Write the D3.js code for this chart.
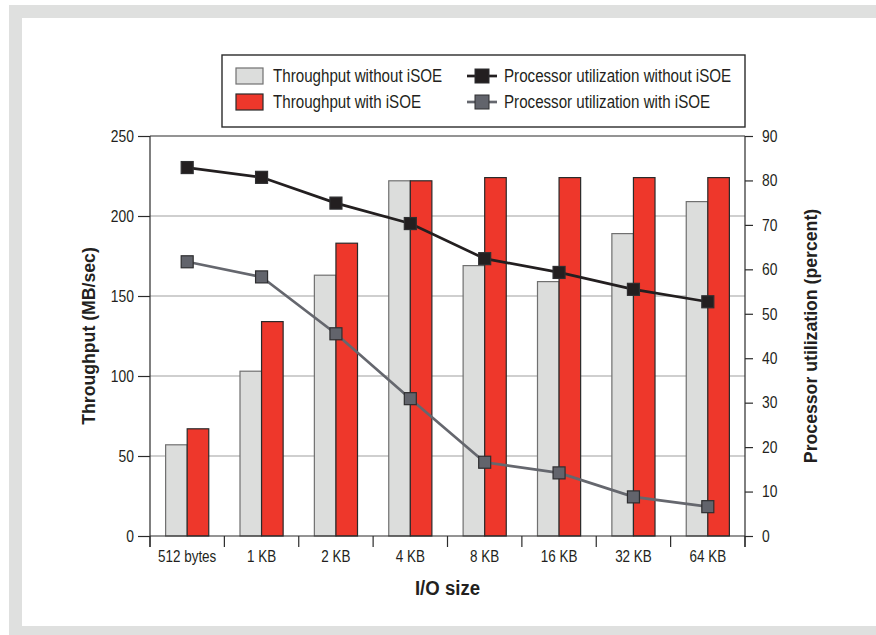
<!DOCTYPE html>
<html>
<head>
<meta charset="utf-8">
<script src="https://cdn.jsdelivr.net/npm/d3@7"></script>
<style>
  html, body { margin: 0; padding: 0; background: #fff; }
  svg { display: block; }
  text { font-family: 'Liberation Sans', Arial, sans-serif; fill: #231f20; }
</style>
</head>
<body>
<svg id="chart" width="876" height="635"></svg>
<script>
// I/O sizes tested
const categories = ["512 bytes", "1 KB", "2 KB", "4 KB", "8 KB", "16 KB", "32 KB", "64 KB"];
// Throughput in MB/sec
const throughputWithout = [57, 103, 163, 222, 169, 159, 189, 209];
const throughputWith    = [67, 134, 183, 222, 224, 224, 224, 224];
// Processor utilization in percent
const cpuWithout = [82.9, 80.7, 74.9, 70.3, 62.4, 59.3, 55.5, 52.7];
const cpuWith    = [61.7, 58.3, 45.5, 30.9, 16.6, 14.2, 8.8, 6.6];
// Axis ticks
const leftTicks  = [0, 50, 100, 150, 200, 250];
const rightTicks = [0, 10, 20, 30, 40, 50, 60, 70, 80, 90];

const seriesNames = {
  barWithout: "Throughput without iSOE",
  barWith: "Throughput with iSOE",
  lineWithout: "Processor utilization without iSOE",
  lineWith: "Processor utilization with iSOE"
};

const colors = {
  grayFill: "#dcdddc", grayStroke: "#707070",
  redFill: "#ee372b", redStroke: "#2a2a2a",
  blackLine: "#231f20", blackMarker: "#231f20",
  grayLine: "#65676e", grayMarker: "#62646c", markerStroke: "#2e2e30",
  grid: "#bfbfbf", axis: "#2b2b2b", frame: "#dfe0df"
};

// horizontal squeeze that turns a regular sans into a condensed face
const NARROW = 0.84, NARROW_LEGEND = 0.865, NARROW_BOLD = 0.93;

const svg = d3.select("#chart");
const W = 876, H = 635;

// outer panel: light gray frame around a white card
svg.append("rect").attr("x", 9).attr("y", 5).attr("width", W - 9).attr("height", H - 5).attr("fill", colors.frame);
svg.append("rect").attr("x", 22).attr("y", 18).attr("width", W - 22).attr("height", 608).attr("fill", "#fff");

const plot = { left: 150, right: 745, top: 136, bottom: 536 };

const x = d3.scaleBand().domain(categories).range([plot.left, plot.right]).padding(0);
const yL = d3.scaleLinear().domain([0, 250]).range([plot.bottom, plot.top]);
const yR = d3.scaleLinear().domain([0, 90]).range([plot.bottom, plot.top]);

// horizontal grid lines at the throughput ticks
svg.append("g").selectAll("line")
  .data(leftTicks.filter(t => t > 0 && t < 250))
  .join("line")
  .attr("x1", plot.left).attr("x2", plot.right)
  .attr("y1", d => yL(d)).attr("y2", d => yL(d))
  .attr("stroke", colors.grid).attr("stroke-width", 1.5);

// bars
const bw = x.bandwidth() * 0.29;
const cx = d => x(d) + x.bandwidth() / 2;
const bars = svg.append("g");
bars.selectAll("rect.without")
  .data(categories.map((c, i) => ({ c, v: throughputWithout[i] })))
  .join("rect").attr("class", "without")
  .attr("x", d => cx(d.c) - bw).attr("width", bw)
  .attr("y", d => yL(d.v)).attr("height", d => yL(0) - yL(d.v))
  .attr("fill", colors.grayFill).attr("stroke", colors.grayStroke).attr("stroke-width", 1.2);
bars.selectAll("rect.with")
  .data(categories.map((c, i) => ({ c, v: throughputWith[i] })))
  .join("rect").attr("class", "with")
  .attr("x", d => cx(d.c)).attr("width", bw)
  .attr("y", d => yL(d.v)).attr("height", d => yL(0) - yL(d.v))
  .attr("fill", colors.redFill).attr("stroke", colors.redStroke).attr("stroke-width", 1.2);

// plot frame
svg.append("line").attr("x1", plot.left).attr("x2", plot.right).attr("y1", plot.top).attr("y2", plot.top)
  .attr("stroke", colors.axis).attr("stroke-width", 1.2);

// left axis
const axL = svg.append("g").attr("transform", `translate(${plot.left},0)`)
  .call(d3.axisLeft(yL).tickValues(leftTicks).tickSize(12).tickPadding(4));
// right axis
const axR = svg.append("g").attr("transform", `translate(${plot.right},0)`)
  .call(d3.axisRight(yR).tickValues(rightTicks).tickSize(8).tickPadding(9));
// bottom axis with ticks at category boundaries
const axB = svg.append("g").attr("transform", `translate(0,${plot.bottom})`);
axB.append("line").attr("x1", plot.left).attr("x2", plot.right).attr("stroke", colors.axis).attr("stroke-width", 1.2);
axB.selectAll("line.tick")
  .data(categories.concat(["__end"]))
  .join("line").attr("class", "tick")
  .attr("x1", (d, i) => i < categories.length ? x(d) : plot.right)
  .attr("x2", (d, i) => i < categories.length ? x(d) : plot.right)
  .attr("y1", 0).attr("y2", 11)
  .attr("stroke", colors.axis).attr("stroke-width", 1.2);
axB.selectAll("text")
  .data(categories).join("text").attr("class", "narrow")
  .attr("x", d => cx(d)).attr("y", 26)
  .attr("text-anchor", "middle").attr("font-size", 16)
  .text(d => d);

[axL, axR].forEach(a => {
  a.select(".domain").attr("stroke", colors.axis).attr("stroke-width", 1.2)
    .attr("d", `M0,${plot.top}V${plot.bottom + 11}`);
  a.selectAll(".tick line").attr("stroke", colors.axis).attr("stroke-width", 1.2);
  a.selectAll(".tick text").attr("class", "narrow").attr("font-size", 16.5).attr("fill", "#231f20")
    .style("font-family", "'Liberation Sans', Arial, sans-serif");
});

// axis titles
svg.append("text").attr("class", "narrowBold")
  .attr("transform", `translate(95,${(plot.top + plot.bottom) / 2}) rotate(-90)`)
  .attr("text-anchor", "middle").attr("font-size", 19).attr("font-weight", "bold")
  .text("Throughput (MB/sec)");
svg.append("text").attr("class", "narrowBold")
  .attr("transform", `translate(817,${(plot.top + plot.bottom) / 2}) rotate(-90)`)
  .attr("text-anchor", "middle").attr("font-size", 19).attr("font-weight", "bold")
  .text("Processor utilization (percent)");
svg.append("text").attr("class", "narrowBold")
  .attr("x", (plot.left + plot.right) / 2).attr("y", 595)
  .attr("text-anchor", "middle").attr("font-size", 20).attr("font-weight", "bold")
  .text("I/O size");

// utilization lines
const ms = 12;
function drawLine(values, lineColor, markerFill) {
  const pts = categories.map((c, i) => [cx(c), yR(values[i])]);
  svg.append("path").datum(pts)
    .attr("d", d3.line())
    .attr("fill", "none").attr("stroke", lineColor).attr("stroke-width", 2.7);
  svg.append("g").selectAll("rect").data(pts).join("rect")
    .attr("x", d => d[0] - ms / 2).attr("y", d => d[1] - ms / 2)
    .attr("width", ms).attr("height", ms)
    .attr("fill", markerFill).attr("stroke", colors.markerStroke).attr("stroke-width", 1.2);
}
drawLine(cpuWith, colors.grayLine, colors.grayMarker);
drawLine(cpuWithout, colors.blackLine, colors.blackMarker);

// legend
const lg = svg.append("g");
lg.append("rect").attr("x", 222).attr("y", 55).attr("width", 523).attr("height", 72)
  .attr("fill", "#fff").attr("stroke", colors.axis).attr("stroke-width", 1.4);
const rowY = [76, 102];
[[seriesNames.barWithout, colors.grayFill, colors.grayStroke], [seriesNames.barWith, colors.redFill, colors.redStroke]]
  .forEach(([name, fill, stroke], i) => {
    lg.append("rect").attr("x", 236).attr("y", rowY[i] - 8).attr("width", 27).attr("height", 16)
      .attr("fill", fill).attr("stroke", stroke).attr("stroke-width", 1.2);
    lg.append("text").attr("class", "narrowLegend").attr("x", 273).attr("y", rowY[i] + 6).attr("font-size", 17.5).text(name);
  });
[[seriesNames.lineWithout, colors.blackLine, colors.blackMarker], [seriesNames.lineWith, colors.grayLine, colors.grayMarker]]
  .forEach(([name, lc, mf], i) => {
    lg.append("line").attr("x1", 467).attr("x2", 497).attr("y1", rowY[i]).attr("y2", rowY[i])
      .attr("stroke", lc).attr("stroke-width", 2.7);
    lg.append("rect").attr("x", 482 - 7).attr("y", rowY[i] - 7).attr("width", 14).attr("height", 14)
      .attr("fill", mf).attr("stroke", colors.markerStroke).attr("stroke-width", 1);
    lg.append("text").attr("class", "narrowLegend").attr("x", 504).attr("y", rowY[i] + 6).attr("font-size", 17.5).text(name);
  });

// condense every label horizontally
function squeeze(sel, k) {
  sel.each(function () {
    const len = this.getComputedTextLength();
    d3.select(this).attr("textLength", len * k).attr("lengthAdjust", "spacingAndGlyphs");
  });
}
squeeze(svg.selectAll("text.narrow"), NARROW);
squeeze(svg.selectAll("text.narrowLegend"), NARROW_LEGEND);
squeeze(svg.selectAll("text.narrowBold"), NARROW_BOLD);
</script>
</body>
</html>
